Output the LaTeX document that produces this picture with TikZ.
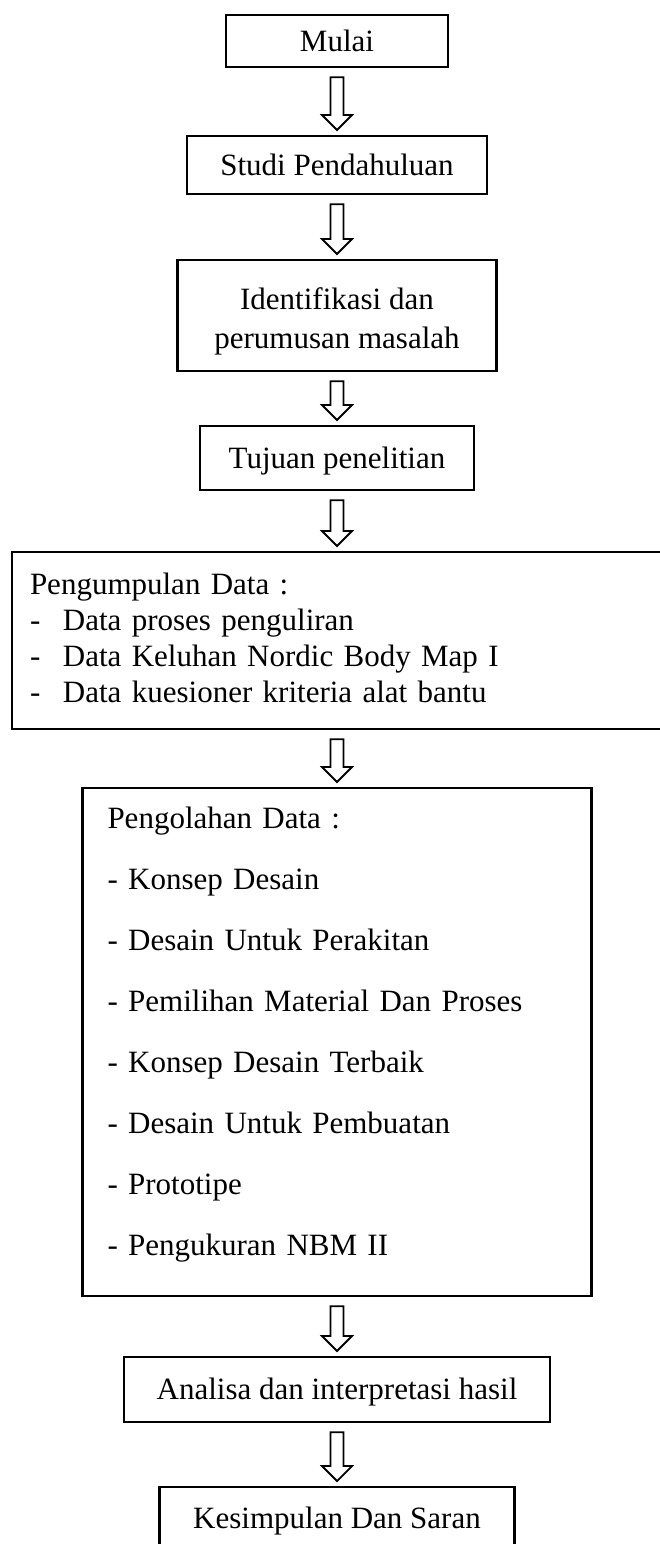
\documentclass[tikz,border=0pt]{standalone}
\usepackage{fontspec}
\setmainfont{Liberation Serif}
\usetikzlibrary{calc}

\tikzset{
  box/.style={draw, line width=2.2pt, anchor=north, inner sep=0pt, align=center,
    font=\fontsize{31}{39}\selectfont},
  onebox/.style={box, text height=21pt, text depth=1pt},
  hollow/.style={draw, line width=1.8pt, fill=white, line join=miter}
}

% hollow block arrow from the bottom of #1 to the top of #2
\newcommand{\flowarrow}[2]{%
  \draw[hollow] ($(#1.south)+(-6.5,9)$) -- ($(#1.south)+(6.5,9)$)
    -- ($(#2.north)+(6.5,-20)$) -- ($(#2.north)+(15,-20)$)
    -- ($(#2.north)+(0,-5)$) -- ($(#2.north)+(-15,-20)$)
    -- ($(#2.north)+(-6.5,-20)$) -- cycle;}

\begin{document}
\begin{tikzpicture}[x=1pt, y=-1pt]
    \useasboundingbox (0,0) rectangle (659,1544);

    \node[onebox, minimum width=222, minimum height=52] (mulai) at (337,14) {Mulai};
    \node[onebox, minimum width=300, minimum height=58] (studi) at (337,135) {Studi Pendahuluan};
    \node[box, minimum width=319, minimum height=111] (identif) at (337,259)
      {\rule{0pt}{33pt}Identifikasi dan\\ perumusan masalah};
    \node[onebox, minimum width=274, minimum height=64] (tujuan) at (337,425) {Tujuan penelitian};

    \node[box, minimum width=650, minimum height=177, inner xsep=18pt, text width=614pt,
      align=left, font=\fontsize{31}{36}\selectfont] (kumpul) at (337,551)
      {Pengumpulan Data :\\
       \makebox[33pt][l]{-}Data proses penguliran\\
       \makebox[33pt][l]{-}Data Keluhan Nordic Body Map I\\
       \makebox[33pt][l]{-}Data kuesioner kriteria alat bantu\rule[-6pt]{0pt}{0pt}};

    \node[box, minimum width=509, minimum height=508, inner xsep=25pt, text width=459pt,
      align=left, font=\fontsize{31}{61}\selectfont] (olah) at (337,787)
      {Pengolahan Data :\\
       - Konsep Desain\\
       - Desain Untuk Perakitan\\
       - Pemilihan Material Dan Proses\\
       - Konsep Desain Terbaik\\
       - Desain Untuk Pembuatan\\
       - Prototipe\\
       - Pengukuran NBM II\rule[-22pt]{0pt}{0pt}};

    \node[onebox, minimum width=426, minimum height=65] (analisa) at (337,1356)
      {Analisa dan interpretasi hasil};
    \node[onebox, minimum width=355, minimum height=74, text depth=13pt] (simpul) at (337,1486)
      {Kesimpulan Dan Saran};

    \flowarrow{mulai}{studi}
    \flowarrow{studi}{identif}
    \flowarrow{identif}{tujuan}
    \flowarrow{tujuan}{kumpul}
    \flowarrow{kumpul}{olah}
    \flowarrow{olah}{analisa}
    \flowarrow{analisa}{simpul}
\end{tikzpicture}
\end{document}
